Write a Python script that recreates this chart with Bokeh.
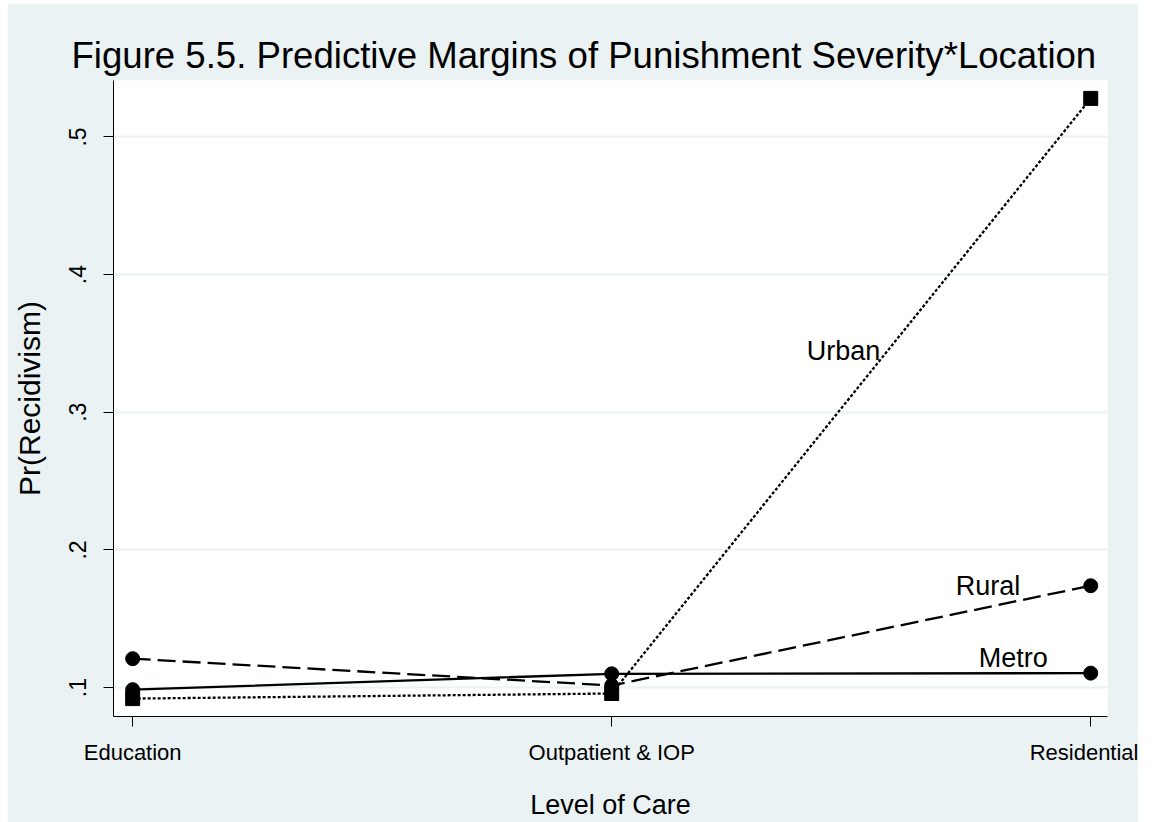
from bokeh.plotting import figure
from bokeh.models import FixedTicker, Range1d, Label
from bokeh.embed import file_html
from bokeh.resources import INLINE

# ---- data ----
categories = ["Education", "Outpatient & IOP", "Residential"]
metro = [0.0985, 0.1100, 0.1105]
rural = [0.1210, 0.1015, 0.1740]
urban = [0.0920, 0.0957, 0.5280]
y_ticks = [0.1, 0.2, 0.3, 0.4, 0.5]
y_tick_labels = [".1", ".2", ".3", ".4", ".5"]
series_names = ["Urban", "Rural", "Metro"]

# label anchor positions (data coords)
label_pos = {"Urban": (1.407, 0.3445), "Rural": (1.718, 0.1738), "Metro": (1.766, 0.1217)}

BG = "#EAF2F3"
FONT = "Liberation Sans"

xs = list(range(len(categories)))

p = figure(width=1131, height=819, output_backend="svg", toolbar_location=None,
           x_range=Range1d(-0.04, 2.035), y_range=Range1d(0.079, 0.541),
           min_border_left=106, min_border_right=31, min_border_top=77, min_border_bottom=103)
p.margin = (3, 0, 0, 7)
p.background_fill_color = "white"
p.border_fill_color = BG
p.outline_line_color = None

# title
p.title.text = "Figure 5.5. Predictive Margins of Punishment Severity*Location"
p.title.text_font = FONT
p.title.text_font_size = "36.6px"
p.title.text_font_style = "normal"
p.title.text_color = "black"
p.title.align = "left"
p.title.offset = -42

# axes
p.xaxis.ticker = FixedTicker(ticks=xs)
p.xaxis.major_label_overrides = {i: c for i, c in enumerate(categories)}
p.yaxis.ticker = FixedTicker(ticks=y_ticks)
p.yaxis.major_label_overrides = {t: l for t, l in zip(y_ticks, y_tick_labels)}
p.yaxis.major_label_orientation = "vertical"
for ax in (p.xaxis, p.yaxis):
    ax.axis_line_color = "black"
    ax.axis_line_width = 1
    ax.major_tick_line_color = "black"
    ax.major_tick_out = 10
    ax.major_tick_in = 0
    ax.minor_tick_line_color = None
    ax.major_label_text_font = FONT
    ax.major_label_text_color = "black"
    ax.axis_label_text_font = FONT
    ax.axis_label_text_font_style = "normal"
    ax.axis_label_text_color = "black"
p.xaxis.major_label_text_font_size = "22px"
p.yaxis.major_label_text_font_size = "23px"
p.xaxis.major_label_standoff = 13
p.yaxis.major_label_standoff = 17
p.xaxis.axis_label = "Level of Care"
p.yaxis.axis_label = "Pr(Recidivism)"
p.xaxis.axis_label_text_font_size = "27px"
p.yaxis.axis_label_text_font_size = "30px"
p.xaxis.axis_label_standoff = 22
p.yaxis.axis_label_standoff = 21

p.xgrid.grid_line_color = None
p.ygrid.grid_line_color = BG
p.ygrid.grid_line_width = 2
p.ygrid.ticker = FixedTicker(ticks=y_ticks)

LW = 2.3
# Metro: solid, circles
p.line(xs, metro, line_color="black", line_width=LW)
p.scatter(xs, metro, marker="circle", size=14, fill_color="black", line_color="black")
# Rural: dashed, circles
p.line(xs, rural, line_color="black", line_width=LW, line_dash="18 7")
p.scatter(xs, rural, marker="circle", size=14, fill_color="black", line_color="black")
# Urban: dotted, squares
p.line(xs, urban, line_color="black", line_width=LW, line_dash="3 2")
p.scatter(xs, urban, marker="square", size=14, fill_color="black", line_color="black")

for name in series_names:
    lx, ly = label_pos[name]
    p.add_layout(Label(x=lx, y=ly, text=name, text_font=FONT, text_font_size="27px",
                       text_color="black", text_align="left", text_baseline="middle"))

open("out.html", "w").write(file_html(p, INLINE))
